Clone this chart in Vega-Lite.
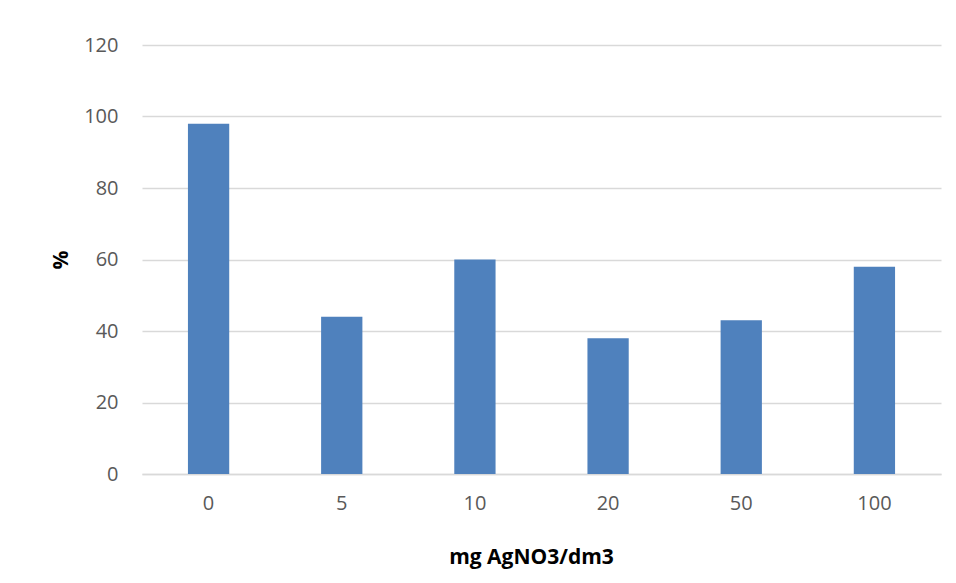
{
  "$schema": "https://vega.github.io/schema/vega-lite/v6.json",
  "autosize": {"type": "none"},
  "width": 799,
  "height": 429,
  "padding": {"left": 142, "top": 45, "right": 15, "bottom": 109},
  "background": "#ffffff",
  "data": {
    "values": [
      {"dose": "0", "pct": 98},
      {"dose": "5", "pct": 44},
      {"dose": "10", "pct": 60},
      {"dose": "20", "pct": 38},
      {"dose": "50", "pct": 43},
      {"dose": "100", "pct": 58}
    ]
  },
  "mark": {"type": "bar", "color": "#4f81bd"},
  "encoding": {
    "x": {
      "field": "dose",
      "type": "ordinal",
      "sort": null,
      "scale": {"paddingInner": 0.69, "paddingOuter": 0.345},
      "axis": {
        "title": "mg AgNO3/dm3",
        "titleFont": "Open Sans",
        "titleFontSize": 21,
        "titleFontWeight": "bold",
        "titleColor": "#000000",
        "titlePadding": 33,
        "titleX": 389,
        "labelAngle": 0,
        "labelFont": "Open Sans",
        "labelFontSize": 20,
        "labelColor": "#595959",
        "labelPadding": 19,
        "ticks": false,
        "domainColor": "#d9d9d9",
        "domainWidth": 1.5
      }
    },
    "y": {
      "field": "pct",
      "type": "quantitative",
      "scale": {"domain": [0, 120]},
      "axis": {
        "title": "%",
        "titleFont": "Open Sans",
        "titleFontSize": 21,
        "titleFontWeight": "bold",
        "titleColor": "#000000",
        "titlePadding": 12,
        "values": [0, 20, 40, 60, 80, 100, 120],
        "labelFont": "Open Sans",
        "labelFontSize": 20,
        "labelColor": "#595959",
        "labelPadding": 24,
        "ticks": false,
        "domain": false,
        "grid": true,
        "gridColor": "#d9d9d9",
        "gridWidth": 1.5
      }
    }
  },
  "config": {"view": {"stroke": null}}
}
